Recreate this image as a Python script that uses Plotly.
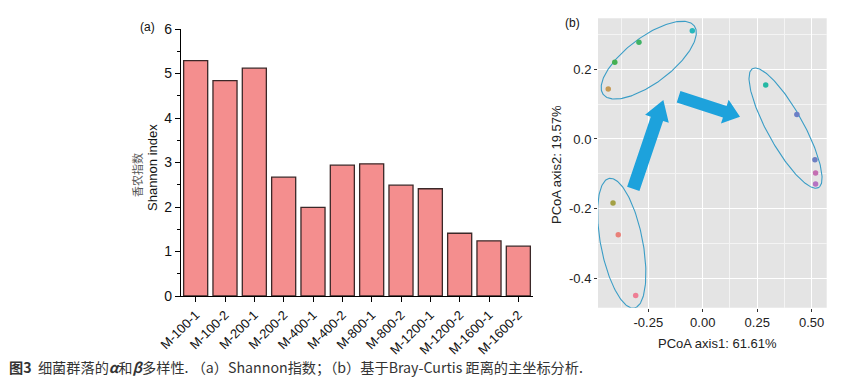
import numpy as np
import plotly.graph_objects as go

W, H = 864, 379

# ---------------- data ----------------
samples = ["M-100-1", "M-100-2", "M-200-1", "M-200-2", "M-400-1", "M-400-2",
           "M-800-1", "M-800-2", "M-1200-1", "M-1200-2", "M-1600-1", "M-1600-2"]
shannon = [5.29, 4.84, 5.12, 2.67, 1.99, 2.94, 2.97, 2.49, 2.41, 1.41, 1.24, 1.12]

pcoa1 = [-0.388, -0.308, -0.412, -0.434, -0.404, -0.293, -0.048, 0.289, 0.432, 0.515, 0.518, 0.518]
pcoa2 = [-0.275, -0.449, -0.184, 0.143, 0.220, 0.277, 0.310, 0.155, 0.070, -0.060, -0.098, -0.129]
pt_colors = ["#E98079", "#EE7E94", "#A3A044", "#C69A55", "#45B052", "#3FB265",
             "#26B8BC", "#25B8A4", "#6C7FC6", "#6E80C2", "#C46FB2", "#B572C2"]

# ellipses: centre (data), semi-axes (px), angle (deg, screen, downward positive)
ell_cx = [-0.248, 0.380, -0.372]
ell_cy = [0.226, 0.031, -0.299]
ell_a = [57, 68, 66]
ell_b = [23, 18, 21]
ell_ang = [-37, 61, 79]

# block arrows: tail/tip in data coords
arr_x0 = [-0.319, -0.111]
arr_y0 = [-0.143, 0.121]
arr_x1 = [-0.181, 0.171]
arr_y1 = [0.112, 0.064]
arr_shaft = [13, 12]
arr_headw = [25, 25]
arr_headl = [20, 16]

# ---------------- layout geometry ----------------
L_x0, L_x1, L_yt, L_yb = 181, 533, 29, 296
R_x0, R_x1, R_yt, R_yb = 598, 826.7, 18.3, 307.7
RX = [-0.481, 0.569]
RY = [-0.484, 0.346]
sx = (R_x1 - R_x0) / (RX[1] - RX[0])
sy = (R_yb - R_yt) / (RY[1] - RY[0])

fig = go.Figure()

fig.add_trace(go.Bar(
    x=samples, y=shannon, width=0.82,
    marker=dict(color="#F48E8E", line=dict(color="#3b2828", width=1.3)),
    xaxis="x", yaxis="y", showlegend=False))

# ellipses
for cx, cy, a, b, ang in zip(ell_cx, ell_cy, ell_a, ell_b, ell_ang):
    t = np.linspace(0, 2 * np.pi, 200)
    th = np.deg2rad(ang)
    px = a * np.cos(t) * np.cos(th) - b * np.sin(t) * np.sin(th)
    py = a * np.cos(t) * np.sin(th) + b * np.sin(t) * np.cos(th)
    fig.add_trace(go.Scatter(x=cx + px / sx, y=cy - py / sy, mode="lines",
                             line=dict(color="#3A9DC6", width=1.1),
                             xaxis="x2", yaxis="y2", showlegend=False, hoverinfo="skip"))

fig.add_trace(go.Scatter(x=pcoa1, y=pcoa2, mode="markers",
                         marker=dict(color=pt_colors, size=5.5),
                         xaxis="x2", yaxis="y2", showlegend=False))

# arrows
for x0, y0, x1, y1, sw, hw, hl in zip(arr_x0, arr_y0, arr_x1, arr_y1, arr_shaft, arr_headw, arr_headl):
    p0 = np.array([x0 * sx, -y0 * sy])
    p1 = np.array([x1 * sx, -y1 * sy])
    d = p1 - p0
    u = d / np.linalg.norm(d)
    n = np.array([-u[1], u[0]])
    hb = p1 - u * hl
    pts = [p0 + n * sw / 2, hb + n * sw / 2, hb + n * hw / 2, p1,
           hb - n * hw / 2, hb - n * sw / 2, p0 - n * sw / 2]
    path = "M " + " L ".join(f"{p[0] / sx},{-p[1] / sy}" for p in pts) + " Z"
    fig.add_shape(type="path", path=path, xref="x2", yref="y2",
                  fillcolor="#1DA2DC", line=dict(width=0), layer="above")

font_en = "Liberation Sans, Arial, sans-serif"
font_cn = "Noto Sans CJK SC, sans-serif"

fig.update_layout(
    template="none",
    width=W, height=H, margin=dict(l=0, r=0, t=0, b=0, pad=0, autoexpand=False),
    paper_bgcolor="white", plot_bgcolor="white",
    font=dict(family=font_en, color="#111"),
    xaxis=dict(domain=[L_x0 / W, L_x1 / W], range=[-0.5, 11.5], automargin=False,
               showline=True, linecolor="black", linewidth=1.3,
               ticks="outside", ticklen=5, tickcolor="black", tickwidth=1.2,
               tickangle=-45, tickfont=dict(size=13, color="#111"),
               showgrid=False, zeroline=False, anchor="y"),
    yaxis=dict(domain=[1 - L_yb / H, 1 - L_yt / H], range=[0, 6], automargin=False,
               showline=True, linecolor="black", linewidth=1.3,
               ticks="outside", ticklen=5, tickcolor="black", tickwidth=1.2,
               tickvals=[0, 1, 2, 3, 4, 5, 6], tickfont=dict(size=14, color="#111"),
               minor=dict(ticks="outside", ticklen=3, tickcolor="black", dtick=0.5, showgrid=False),
               showgrid=False, zeroline=False, anchor="x"),
    xaxis2=dict(domain=[R_x0 / W, R_x1 / W], range=RX, automargin=False,
                tickvals=[-0.25, 0, 0.25, 0.5], ticktext=["-0.25", "0.00", "0.25", "0.50"],
                ticks="outside", ticklen=3, tickcolor="#333", tickfont=dict(size=13, color="#222"),
                showgrid=True, gridcolor="white", gridwidth=1.2,
                minor=dict(tickvals=[-0.375, -0.125, 0.125, 0.375], showgrid=True,
                           gridcolor="#F4F4F4", gridwidth=0.6),
                zeroline=False, showline=False, anchor="y2"),
    yaxis2=dict(domain=[1 - R_yb / H, 1 - R_yt / H], range=RY, automargin=False,
                tickvals=[-0.4, -0.2, 0, 0.2], ticktext=["-0.4", "-0.2", "0.0", "0.2"],
                ticks="outside", ticklen=3, tickcolor="#333", tickfont=dict(size=13, color="#222"),
                showgrid=True, gridcolor="white", gridwidth=1.2,
                minor=dict(tickvals=[-0.3, -0.1, 0.1, 0.3], showgrid=True,
                           gridcolor="#F4F4F4", gridwidth=0.6),
                zeroline=False, showline=False, anchor="x2"),
)

fig.add_shape(type="rect", xref="x2 domain", yref="y2 domain", x0=0, x1=1, y0=0, y1=1,
              fillcolor="#E4E4E4", line=dict(width=0), layer="below")

ann = [
    dict(text="Shannon index", x=152 / W, y=1 - 168 / H, textangle=-90,
         font=dict(size=13, color="#111", family=font_en)),
    dict(text="香农指数", x=137 / W, y=1 - 175 / H, textangle=-90,
         font=dict(size=11, color="#555", family=font_cn)),
    dict(text="PCoA axis1: 61.61%", x=717 / W, y=1 - 343 / H,
         font=dict(size=13, color="#222", family=font_en)),
    dict(text="PCoA axis2: 19.57%", x=556 / W, y=1 - 165 / H, textangle=-90,
         font=dict(size=13, color="#222", family=font_en)),
    dict(text="(a)", x=147 / W, y=1 - 27 / H, font=dict(size=12, color="#111")),
    dict(text="(b)", x=572 / W, y=1 - 23 / H, font=dict(size=12, color="#111")),
    dict(text="<b>图3</b>  细菌群落的<b><i>α</i></b>和<b><i>β</i></b>多样性. （a）Shannon指数；（b）基于Bray-Curtis 距离的主坐标分析.",
         x=7 / W, y=1 - 367 / H, xanchor="left",
         font=dict(size=14.2, color="#333", family="Noto Sans CJK SC, Liberation Sans, sans-serif")),
]
for a in ann:
    a.setdefault("xanchor", "center")
    fig.add_annotation(xref="paper", yref="paper", yanchor="middle", showarrow=False, **a)

fig.write_html("out.html", config={"displayModeBar": False},
               post_script="document.body.style.margin='0px';document.body.style.overflow='hidden';")
